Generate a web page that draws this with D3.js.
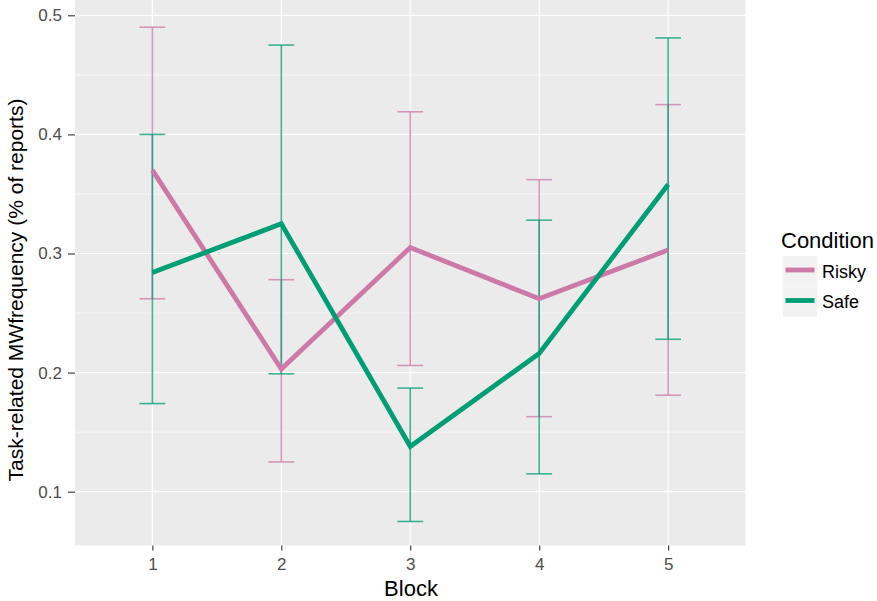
<!DOCTYPE html>
<html><head><meta charset="utf-8">
<script src="https://cdn.jsdelivr.net/npm/d3@7"></script>
<style>body{margin:0;background:#fff;} text{font-family:"Liberation Sans",Arial,sans-serif;}</style>
</head><body>
<svg id="c" width="877" height="601"></svg>
<script>
const blocks = [1, 2, 3, 4, 5];
const conditions = ["Risky", "Safe"];
const riskyMean = [0.370, 0.203, 0.305, 0.262, 0.303];
const riskyLow  = [0.262, 0.125, 0.206, 0.163, 0.181];
const riskyHigh = [0.490, 0.278, 0.419, 0.362, 0.425];
const safeMean  = [0.284, 0.325, 0.138, 0.216, 0.358];
const safeLow   = [0.174, 0.199, 0.075, 0.115, 0.228];
const safeHigh  = [0.400, 0.475, 0.187, 0.328, 0.481];
const yTicks = [0.1, 0.2, 0.3, 0.4, 0.5];
const yMinor = [0.15, 0.25, 0.35, 0.45];
const colors = {Risky: "#CC79A7", Safe: "#009E73"};

const series = [
  {name: "Risky", mean: riskyMean, low: riskyLow, high: riskyHigh},
  {name: "Safe", mean: safeMean, low: safeLow, high: safeHigh}
];

const svg = d3.select("#c");
const L = 75, R = 745.5, T = 0, B = 545.5;
const x = d3.scaleLinear().domain([0.4, 5.6]).range([L, R]);
const y = d3.scaleLinear().domain([0.5 + 15.3/1191, 0.5 - 530.2/1191]).range([T, B]);

svg.append("rect").attr("x", L).attr("y", T).attr("width", R - L).attr("height", B - T).attr("fill", "#EBEBEB");
const g = svg.append("g");
g.selectAll(".ymin").data(yMinor).join("line")
  .attr("x1", L).attr("x2", R).attr("y1", d => y(d)).attr("y2", d => y(d))
  .attr("stroke", "#fff").attr("stroke-width", 0.6);
g.selectAll(".ymaj").data(yTicks).join("line")
  .attr("x1", L).attr("x2", R).attr("y1", d => y(d)).attr("y2", d => y(d))
  .attr("stroke", "#fff").attr("stroke-width", 1.2);
g.selectAll(".xmaj").data(blocks).join("line")
  .attr("y1", T).attr("y2", B).attr("x1", d => x(d)).attr("x2", d => x(d))
  .attr("stroke", "#fff").attr("stroke-width", 1.2);

// axes
const yAxis = d3.axisLeft(y).tickValues(yTicks).tickSize(7).tickPadding(6).tickFormat(d3.format(".1f"));
const ya = svg.append("g").attr("transform", `translate(${L},0)`).call(yAxis);
ya.select(".domain").remove();
ya.selectAll("line").attr("stroke", "#333").attr("stroke-width", 1.1);
ya.selectAll("text").attr("fill", "#4D4D4D").style("font-size", "17px").style("font-family", "Liberation Sans, Arial, sans-serif");

const xAxis = d3.axisBottom(x).tickValues(blocks).tickSize(5).tickPadding(7).tickFormat(d3.format("d"));
const xa = svg.append("g").attr("transform", `translate(0,${B})`).call(xAxis);
xa.select(".domain").remove();
xa.selectAll("line").attr("stroke", "#333").attr("stroke-width", 1.1);
xa.selectAll("text").attr("fill", "#4D4D4D").style("font-size", "17px").style("font-family", "Liberation Sans, Arial, sans-serif");

// error bars
const capHalf = (x(2) - x(1)) * 0.1;
series.forEach(s => {
  const eg = svg.append("g").attr("stroke", colors[s.name]).attr("stroke-opacity", 0.75).attr("stroke-width", 1.6).attr("fill", "none");
  blocks.forEach((b, i) => {
    eg.append("line").attr("x1", x(b)).attr("x2", x(b)).attr("y1", y(s.low[i])).attr("y2", y(s.high[i]));
    eg.append("line").attr("x1", x(b) - capHalf).attr("x2", x(b) + capHalf).attr("y1", y(s.low[i])).attr("y2", y(s.low[i]));
    eg.append("line").attr("x1", x(b) - capHalf).attr("x2", x(b) + capHalf).attr("y1", y(s.high[i])).attr("y2", y(s.high[i]));
  });
});
// lines
const line = d3.line().x((d, i) => x(blocks[i])).y(d => y(d));
series.forEach(s => {
  svg.append("path").datum(s.mean).attr("d", line).attr("fill", "none")
    .attr("stroke", colors[s.name]).attr("stroke-width", 4.8).attr("stroke-linejoin", "miter");
});

// titles
svg.append("text").attr("x", 411).attr("y", 596).attr("text-anchor", "middle")
  .style("font-size", "22px").attr("fill", "#000").text("Block");
svg.append("text").attr("transform", `translate(23,290) rotate(-90)`).attr("text-anchor", "middle")
  .style("font-size", "21px").attr("fill", "#000").text("Task-related MWfrequency (% of reports)");

// legend
const lg = svg.append("g");
lg.append("text").attr("x", 781).attr("y", 248).style("font-size", "22px").attr("fill", "#000").text("Condition");
conditions.forEach((c, i) => {
  const ky = 256 + i * 30.5;
  lg.append("rect").attr("x", 783).attr("y", ky).attr("width", 34).attr("height", 30.5).attr("fill", "#F2F2F2");
  lg.append("line").attr("x1", 785.5).attr("x2", 814.5).attr("y1", ky + 14).attr("y2", ky + 14)
    .attr("stroke", colors[c]).attr("stroke-width", 4.8);
  lg.append("text").attr("x", 822).attr("y", ky + 21.5).style("font-size", "18px").attr("fill", "#000").text(c);
});
</script>
</body></html>
